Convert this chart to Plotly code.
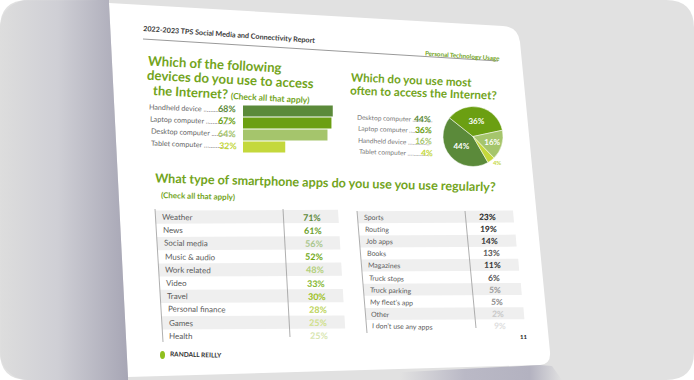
import numpy as np
import plotly.graph_objects as go

W, H = 694, 380

# ---------------- data ----------------
devices = ["Handheld device", "Laptop computer", "Desktop computer", "Tablet computer"]
device_pct = [68, 67, 64, 32]
device_colors = ["#5b8a3a", "#6b9f12", "#a5c56c", "#c4d83c"]

most_labels = ["Desktop computer", "Laptop computer", "Handheld device", "Tablet computer"]
most_pct = [44, 36, 16, 4]
most_colors = ["#5b8a3a", "#6b9f12", "#a5c56c", "#c4d83c"]

apps_left = ["Weather", "News", "Social media", "Music & audio", "Work related",
             "Video", "Travel", "Personal finance", "Games", "Health"]
apps_left_pct = [71, 61, 56, 52, 48, 33, 30, 28, 25, 25]
apps_left_colors = ["#5d8a3a", "#6a9e2a", "#a9c68c", "#6fa814", "#b3d07b",
                    "#86b834", "#9cc021", "#bcd45a", "#cfe08a", "#d8e6b0"]

apps_right = ["Sports", "Routing", "Job apps", "Books", "Magazines", "Truck stops",
              "Truck parking", "My fleet\u2019s app", "Other", "I don\u2019t use any apps"]
apps_right_pct = [23, 19, 14, 13, 11, 6, 5, 5, 2, 9]
apps_right_colors = ["#222222", "#2a2a2a", "#333333", "#555555", "#333333",
                     "#555555", "#999999", "#8a8a8a", "#c8c8c8", "#dedede"]

GREEN = "#72a41c"
FONT = "Lato"

fig = go.Figure()


def arc(cx, cy, r, a0, a1, n=12):
    t = np.linspace(np.radians(a0), np.radians(a1), n)
    return list(cx + r * np.cos(t)), list(cy + r * np.sin(t))


def rounded_rect_path(x0, y0, x1, y1, r):
    return (f"M{x0+r},{y0} L{x1-r},{y0} Q{x1},{y0} {x1},{y0+r} L{x1},{y1-r} "
            f"Q{x1},{y1} {x1-r},{y1} L{x0+r},{y1} Q{x0},{y1} {x0},{y1-r} "
            f"L{x0},{y0+r} Q{x0},{y0} {x0+r},{y0} Z")


shapes = []
# card background
shapes.append(dict(type="path", path=rounded_rect_path(0, 0, W, H, 28), xref="x", yref="y",
                   fillcolor="#e1e1e1", line=dict(width=0), layer="below"))
# page
page_path = ("M109,3 L503,26 Q518,27 520,42 L550,352 Q551,364 540,365 "
             "L128,377 Z")
shapes.append(dict(type="path", path=page_path, xref="x", yref="y",
                   fillcolor="#ffffff", line=dict(width=0), layer="below"))

# left gradient shadow (between card edge and page edge)
ax1, ay1 = arc(28, 28, 28, 270, 180)
ax2, ay2 = arc(28, H - 28, 28, 180, 90)
gx = [109] + ax1 + ax2 + [128, 128, 109]
gy = [0] + ay1 + ay2 + [H, 377, 3]
fig.add_trace(go.Scatter(x=gx, y=gy, fill="toself", mode="lines", line=dict(width=0),
                         fillgradient=dict(type="horizontal",
                                           colorscale=[[0, "#dddddd"], [0.45, "#cfcfd5"], [1, "#a7a6b5"]]),
                         hoverinfo="skip", xaxis="x", yaxis="y"))
# bottom right shadow
fig.add_trace(go.Scatter(x=[400, 540, 552, 562, 400], y=[372.2, 365, 366, H, H], fill="toself",
                         mode="lines", line=dict(width=0),
                         fillgradient=dict(type="horizontal",
                                           colorscale=[[0, "#e1e1e1"], [0.4, "#bab9c6"], [0.8, "#b3b2c0"], [1, "#e1e1e1"]]),
                         hoverinfo="skip", xaxis="x", yaxis="y"))

annotations = []


def txt(x, y, s, size, color, angle=0, xanchor="center", bold=False, family=FONT):
    annotations.append(dict(x=x, y=y, xref="x", yref="y", text=(f"<b>{s}</b>" if bold else s),
                            showarrow=False, xanchor=xanchor, yanchor="middle", textangle=angle,
                            font=dict(family=family, size=size, color=color)))


# header
txt(229, 34, "2022-2023 TPS Social Media and Connectivity Report", 7.2, "#3a3a3a", 4, bold=True)
shapes.append(dict(type="line", x0=143, y0=39, x1=498, y1=61, xref="x", yref="y",
                   line=dict(color="#9a9a9a", width=1), layer="below"))
txt(462, 55, "Personal Technology Usage", 6.2, GREEN, 4, bold=True)

# title 1
txt(215, 63.5, "Which of the following", 13.2, GREEN, 3, bold=True)
txt(230, 78.5, "devices do you use to access", 13.2, GREEN, 3, bold=True)
txt(231, 94, "the Internet? <span style='font-size:8.5px'>(Check all that apply)</span>", 13, GREEN, 3, bold=True)

# title 2
txt(411, 79.5, "Which do you use most", 11.6, GREEN, 2.5, bold=True)
txt(423, 92.5, "often to access the Internet?", 11.6, GREEN, 2, bold=True)

# title 3
txt(325, 182.5, "What type of smartphone apps do you use you use regularly?", 12.6, GREEN, 1.5, bold=True)
txt(198, 195.5, "(Check all that apply)", 8, GREEN, 1.5, bold=True)


def leader(name, total=27):
    return name + " " + "." * max(3, total - len(name))


# bar chart labels
for i, (name, v, c) in enumerate(zip(devices, device_pct, device_colors)):
    y = 108 + i * 12.3
    txt(147 + i * 0.7, y, leader(name, 29), 7.2, "#666666", 2, xanchor="left")
    txt(238 + i * 0.3, y + 0.5, f"{v}%", 9, c, 2, xanchor="right", bold=True)

# bars
fig.add_trace(go.Bar(x=device_pct, y=devices, orientation="h", marker=dict(color=device_colors, line=dict(width=0)),
                     width=0.9, xaxis="x2", yaxis="y2", hoverinfo="skip"))

# pie list
for i, (name, v, c) in enumerate(zip(most_labels, most_pct, most_colors)):
    y = 118 + i * 11.4
    txt(355 + i * 0.6, y, leader(name, 29), 6.6, "#777777", 2, xanchor="left")
    txt(433 + i * 0.8, y + 0.5, f"{v}%", 8.5, c, 2, xanchor="right", bold=True)

fig.add_trace(go.Pie(values=most_pct, labels=most_labels, sort=False, direction="clockwise",
                     rotation=150, marker=dict(colors=most_colors, line=dict(color="white", width=0.5)),
                     text=[f"{v}%" for v in most_pct], textinfo="text",
                     textposition=["inside", "inside", "inside", "outside"],
                     insidetextfont=dict(family=FONT, size=8, color="white", weight="bold"),
                     outsidetextfont=dict(family=FONT, size=6, color="#c4d83c", weight="bold"),
                     domain=dict(x=[443 / W, 503 / W], y=[1 - 167 / H, 1 - 106 / H]),
                     hoverinfo="skip", showlegend=False))

# left table
dy = 13.2
for i, (name, v, c) in enumerate(zip(apps_left, apps_left_pct, apps_left_colors)):
    y = 217 + i * dy
    if i % 2 == 0:
        xl = 155 + i * 0.8
        xr = 338 + i * 0.8
        shapes.append(dict(type="path", xref="x", yref="y", layer="below", line=dict(width=0),
                           fillcolor="#efefef",
                           path=f"M{xl},{y-6.4} L{xr},{y-7.2} L{xr+0.8},{y+6.0} L{xl+0.8},{y+6.8} Z"))
    txt(160 + i * 0.8, y, name, 8, "#5a5a5a", 1, xanchor="left")
    txt(312 + i * 0.8, y, f"{v}%", 9, c, 1, bold=True)
shapes.append(dict(type="line", xref="x", yref="y", x0=155, y0=209, x1=163, y1=342,
                   line=dict(color="#9a9a9a", width=0.8), layer="below"))
shapes.append(dict(type="line", xref="x", yref="y", x0=283, y0=209, x1=290, y1=337,
                   line=dict(color="#9a9a9a", width=0.8), layer="below"))

# right table
dy2 = 12.1
for i, (name, v, c) in enumerate(zip(apps_right, apps_right_pct, apps_right_colors)):
    y = 217 + i * dy2
    if i % 2 == 0:
        xl = 357 + i * 1.0
        xr = 513 + i * 1.3
        shapes.append(dict(type="path", xref="x", yref="y", layer="below", line=dict(width=0),
                           fillcolor="#efefef",
                           path=f"M{xl},{y-5.8} L{xr},{y-6.6} L{xr+1},{y+5.4} L{xl+1},{y+6.2} Z"))
    txt(362 + i * 0.9, y, name, 7, "#5a5a5a", 1.5, xanchor="left")
    txt(487 + i * 1.4, y, f"{v}%", 8.5, c, 1.5, bold=True)
shapes.append(dict(type="line", xref="x", yref="y", x0=357, y0=211, x1=367, y1=333,
                   line=dict(color="#9a9a9a", width=0.8), layer="below"))
shapes.append(dict(type="line", xref="x", yref="y", x0=465, y0=211, x1=476, y1=328,
                   line=dict(color="#9a9a9a", width=0.8), layer="below"))

# footer
shapes.append(dict(type="circle", xref="x", yref="y", x0=160, y0=351, x1=165, y1=359,
                   fillcolor="#8fbf1e", line=dict(width=0)))
txt(168, 354.5, "RANDALL REILLY", 6.5, "#333333", 1.5, xanchor="left", bold=True)
txt(523, 336, "11", 6, "#222222", 0, bold=True)

fig.update_layout(
    width=W, height=H, margin=dict(l=0, r=0, t=0, b=0),
    paper_bgcolor="#ffffff", plot_bgcolor="rgba(0,0,0,0)",
    showlegend=False, shapes=shapes, annotations=annotations,
    xaxis=dict(range=[0, W], visible=False, domain=[0, 1], fixedrange=True),
    yaxis=dict(range=[H, 0], visible=False, domain=[0, 1], fixedrange=True),
    xaxis2=dict(domain=[243 / W, 375 / W], range=[0, 100], visible=False, anchor="y2"),
    yaxis2=dict(domain=[1 - 153 / H, 1 - 105 / H], visible=False, anchor="x2",
                categoryorder="array", categoryarray=devices, autorange="reversed"),
    bargap=0.05,
)

fig.write_html("out.html")
